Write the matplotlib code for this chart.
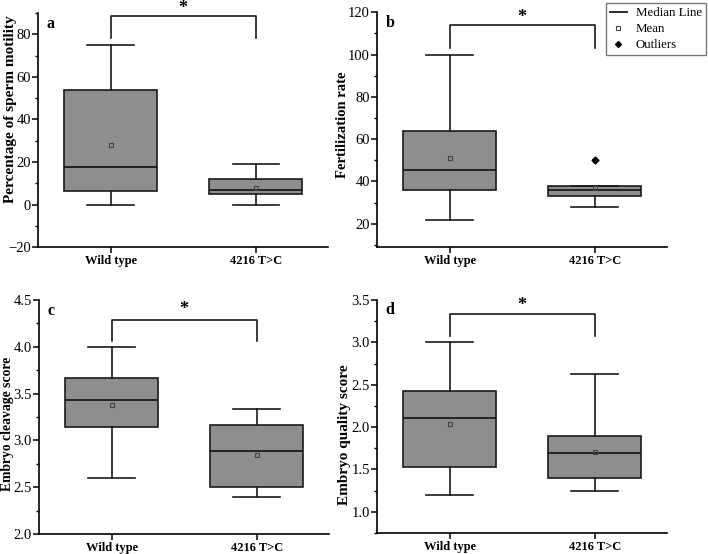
import matplotlib
matplotlib.use("Agg")
import matplotlib.pyplot as plt
from matplotlib.lines import Line2D
from matplotlib.ticker import AutoMinorLocator, MultipleLocator

# === Data ===
GROUPS = ["Wild type", "4216 T>C"]

# each panel: [wild type, 4216 T>C] as (whislo, q1, med, q3, whishi, mean)
MOTILITY = [(0, 6.5, 17.5, 54, 75, 28), (0, 5, 7, 12, 19, 8)]
FERTILIZATION = [(22, 36, 45.5, 64, 100, 51), (28, 33, 36, 38, 38, 37)]
FERT_OUTLIERS = [[], [50]]
CLEAVAGE = [(2.6, 3.14, 3.43, 3.67, 4.0, 3.38), (2.4, 2.5, 2.89, 3.16, 3.34, 2.84)]
QUALITY = [(1.2, 1.53, 2.11, 2.43, 3.0, 2.04), (1.25, 1.4, 1.69, 1.9, 2.63, 1.71)]

YLABELS = ["Percentage of sperm motility", "Fertilization rate",
           "Embryo cleavage score", "Embryo quality score"]
LETTERS = ["a", "b", "c", "d"]
YLIMS = [(-20, 90), (9, 120), (2.0, 4.5), (0.75, 3.5)]
YSTEPS = [20, 20, 0.5, 0.5]
# significance bracket: (top, leg bottom, star y)
BRACKETS = [(88.7, 78.4, 92.0), (113.9, 103.2, 117.5), (4.29, 4.06, 4.40), (3.34, 3.07, 3.44)]

plt.rcParams["font.family"] = "Liberation Serif"
plt.rcParams["font.size"] = 10

BOX_COLOR = "#8e8e8e"
EDGE = "#1a1a1a"


def make_stats(rows, outliers=None):
    stats = []
    for i, (lo, q1, med, q3, hi, mean) in enumerate(rows):
        stats.append(dict(whislo=lo, q1=q1, med=med, q3=q3, whishi=hi, mean=mean,
                          fliers=(outliers[i] if outliers else []), label=GROUPS[i]))
    return stats


def main():
    fig = plt.figure(figsize=(7.08, 5.54), dpi=100)
    rects = [
        [0.0537, 0.554, 0.410, 0.4224],
        [0.5325, 0.554, 0.410, 0.4240],
        [0.0551, 0.0361, 0.410, 0.4224],
        [0.5325, 0.0380, 0.410, 0.4205],
    ]
    # y-label placement / size per panel (Origin doesn't centre them exactly)
    label_pos = [(-0.072, 0.59), (-0.095, 0.52), (-0.085, 0.47), (-0.09, 0.42)]
    label_size = [11, 10.5, 9.8, 11]
    panels = [make_stats(MOTILITY), make_stats(FERTILIZATION, FERT_OUTLIERS),
              make_stats(CLEAVAGE), make_stats(QUALITY)]

    for k, stats in enumerate(panels):
        ax = fig.add_axes(rects[k])
        ax.bxp(stats, positions=[1, 2], widths=0.64, capwidths=0.32,
               patch_artist=True, showmeans=True,
               boxprops=dict(facecolor=BOX_COLOR, edgecolor=EDGE, linewidth=1.2),
               medianprops=dict(color=EDGE, linewidth=1.3),
               whiskerprops=dict(color=EDGE, linewidth=1.2),
               capprops=dict(color=EDGE, linewidth=1.2),
               meanprops=dict(marker="s", markersize=3.2, markerfacecolor="none",
                              markeredgecolor="#444444", markeredgewidth=0.8),
               flierprops=dict(marker="D", markersize=3.5, markerfacecolor="black",
                               markeredgecolor="black"))

        ax.set_xlim(0.5, 2.5)
        ax.set_ylim(*YLIMS[k])
        ax.yaxis.set_major_locator(MultipleLocator(YSTEPS[k]))
        ax.yaxis.set_minor_locator(AutoMinorLocator(2))
        ax.set_xticks([1, 2])
        ax.set_xticklabels(GROUPS, fontweight="bold", fontsize=9)
        ax.set_ylabel(YLABELS[k], fontweight="bold", fontsize=label_size[k])
        ax.yaxis.set_label_coords(*label_pos[k])
        ax.tick_params(axis="y", labelsize=10.5, length=4, width=1.1, pad=1)
        ax.tick_params(axis="y", which="minor", length=2.5, width=1)
        ax.tick_params(axis="x", length=4, width=1.1, pad=2)
        for side in ["top", "right"]:
            ax.spines[side].set_visible(False)
        for side in ["left", "bottom"]:
            ax.spines[side].set_linewidth(1.2)

        top, leg, star = BRACKETS[k]
        ax.plot([1, 1, 2, 2], [leg, top, top, leg], color=EDGE, linewidth=1.2,
                clip_on=False)
        ax.text(1.5, star, "*", ha="center", va="center", fontsize=13,
                fontweight="bold", clip_on=False)
        ax.text(0.03, 0.955, LETTERS[k], transform=ax.transAxes, fontsize=11.5,
                fontweight="bold", ha="left", va="center")

    handles = [
        Line2D([], [], color=EDGE, linewidth=1.3),
        Line2D([], [], linestyle="none", marker="s", markersize=3,
               markerfacecolor="none", markeredgecolor="#444444", markeredgewidth=0.8),
        Line2D([], [], linestyle="none", marker="D", markersize=3,
               markerfacecolor="black", markeredgecolor="black"),
    ]
    leg = fig.legend(handles, ["Median Line", "Mean", "Outliers"],
                     loc="upper right", bbox_to_anchor=(0.997, 0.994),
                     fontsize=9.3, fancybox=False, edgecolor="#555555",
                     handlelength=1.3, handletextpad=0.7, borderpad=0.3,
                     labelspacing=0.3, borderaxespad=0)
    leg.get_frame().set_linewidth(1.0)

    fig.savefig("out.png", dpi=100)


if __name__ == "__main__":
    main()
